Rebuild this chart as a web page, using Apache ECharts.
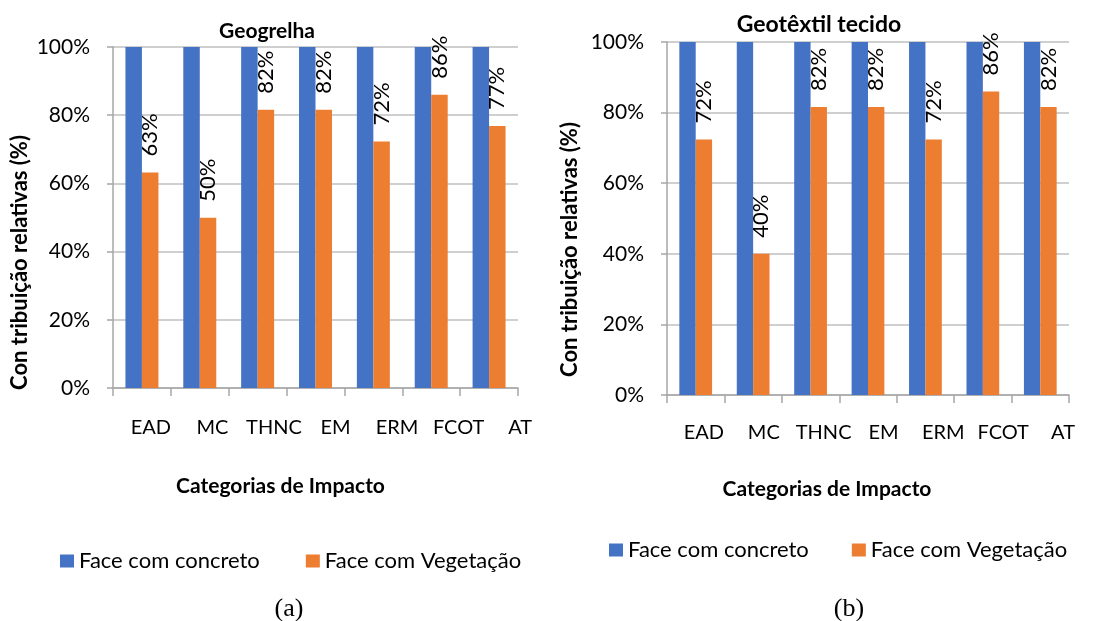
<!DOCTYPE html>
<html>
<head>
<meta charset="utf-8">
<script src="https://cdn.jsdelivr.net/npm/echarts@6/dist/echarts.min.js"></script>
<style>
  html, body { margin: 0; padding: 0; background: #fff; }
  #main { width: 1093px; height: 621px; }
</style>
</head>
<body>
<div id="main"></div>
<script>
// categorias de impacto
var categorias = ['EAD', 'MC', 'THNC', 'EM', 'ERM', 'FCOT', 'AT'];
var yTicks = [0, 20, 40, 60, 80, 100];
// (a) Geogrelha
var geogrelhaConcreto = [100, 100, 100, 100, 100, 100, 100];
var geogrelhaVegetacao = [63.2, 49.9, 81.6, 81.6, 72.3, 86, 76.8];
// (b) Geotêxtil tecido
var geotextilConcreto = [100, 100, 100, 100, 100, 100, 100];
var geotextilVegetacao = [72.4, 40, 81.6, 81.6, 72.4, 86, 81.6];

var azul = '#4472C4';
var laranja = '#ED7D31';
var cinza = '#a6a6a6';
var fonte = 'Lato, "Noto Sans", sans-serif';

// eixo principal (barras), rotulos das categorias vao num eixo a parte
function eixoX(idx, nameGap, namePad) {
    return {
        type: 'category',
        gridIndex: idx,
        data: categorias,
        name: 'Categorias de Impacto',
        nameLocation: 'middle',
        nameGap: nameGap,
        nameTextStyle: { fontFamily: fonte, fontWeight: 'bold', fontSize: 21, color: '#000', padding: [0, namePad, 0, 0] },
        axisLine: { show: true, lineStyle: { color: cinza, width: 1.5 } },
        axisTick: { show: true, length: 8, lineStyle: { color: cinza, width: 1.5 } },
        axisLabel: { show: false },
        splitLine: { show: false }
    };
}

// eixo so com os rotulos (no Excel eles ficaram um pouco deslocados)
function eixoRotulos(idx, margin) {
    return {
        type: 'category',
        gridIndex: idx,
        data: categorias,
        axisLine: { show: false },
        axisTick: { show: false },
        axisLabel: { interval: 0, margin: margin, fontFamily: fonte, fontSize: 20, color: '#000' },
        splitLine: { show: false }
    };
}

function eixoY(idx, nameGap, namePad) {
    return {
        type: 'value',
        gridIndex: idx,
        min: yTicks[0],
        max: yTicks[yTicks.length - 1],
        interval: 20,
        name: 'Con tribuição relativas (%)',
        nameLocation: 'middle',
        nameGap: nameGap,
        nameTextStyle: { fontFamily: fonte, fontWeight: 'bold', fontSize: 22, color: '#000', padding: [0, namePad, 0, 0] },
        axisLine: { show: true, lineStyle: { color: cinza, width: 1.5 } },
        axisTick: { show: true, length: 6, lineStyle: { color: cinza, width: 1.5 } },
        axisLabel: {
            margin: 23, fontFamily: fonte, fontSize: 21, color: '#000',
            formatter: function (v) { return v + '%'; }
        },
        splitLine: { show: true, lineStyle: { color: '#bfbfbf', width: 1.5 } }
    };
}

function eixoYVazio(idx) {
    return { type: 'value', gridIndex: idx, min: 0, max: 100, show: false };
}

var rotulo = {
    show: true,
    position: 'top',
    rotate: 90,
    align: 'left',
    verticalAlign: 'middle',
    distance: 16,
    fontFamily: fonte,
    fontSize: 22,
    color: '#000',
    formatter: function (p) { return Math.round(p.value) + '%'; }
};

function serie(nome, dados, cor, idx, comRotulo) {
    return {
        name: nome,
        type: 'bar',
        xAxisIndex: idx,
        yAxisIndex: idx,
        data: dados,
        barGap: '0%',
        barCategoryGap: '43%',
        itemStyle: { color: cor },
        label: comRotulo ? rotulo : { show: false },
        emphasis: { disabled: true }
    };
}

var legendaTexto = { fontFamily: fonte, fontSize: 22, color: '#000' };
var nomesLegenda = ['Face com concreto', 'Face com Vegetação'];

var chart = echarts.init(document.getElementById('main'));
chart.setOption({
    backgroundColor: '#fff',
    animation: false,
    title: [
        { text: 'Geogrelha', left: 262, top: 16, textAlign: 'center',
          textStyle: { fontFamily: fonte, fontWeight: 'bold', fontSize: 21, color: '#000' } },
        { text: 'Geotêxtil tecido', left: 814, top: 8, textAlign: 'center',
          textStyle: { fontFamily: fonte, fontWeight: 'bold', fontSize: 23, color: '#000' } },
        { text: '(a)', left: 284, top: 591, textAlign: 'center',
          textStyle: { fontFamily: '"Liberation Serif", serif', fontWeight: 'normal', fontSize: 26, color: '#000' } },
        { text: '(b)', left: 844, top: 591, textAlign: 'center',
          textStyle: { fontFamily: '"Liberation Serif", serif', fontWeight: 'normal', fontSize: 26, color: '#000' } }
    ],
    legend: [
        { left: 55, top: 545, itemWidth: 14, itemHeight: 13, itemGap: 46, icon: 'rect',
          data: nomesLegenda, textStyle: legendaTexto, selectedMode: false },
        { left: 604, top: 534, itemWidth: 14, itemHeight: 13, itemGap: 43, icon: 'rect',
          data: nomesLegenda, textStyle: legendaTexto, selectedMode: false }
    ],
    grid: [
        { left: 113, top: 47, width: 405, height: 341 },
        { left: 667, top: 42, width: 402, height: 353 },
        { left: 120, top: 47, width: 431, height: 341 },
        { left: 674, top: 42, width: 423, height: 353 }
    ],
    xAxis: [eixoX(0, 88, 70), eixoX(1, 84, 82), eixoRotulos(2, 30), eixoRotulos(3, 28)],
    yAxis: [eixoY(0, 82, 90), eixoY(1, 86, 62), eixoYVazio(2), eixoYVazio(3)],
    series: [
        serie('Face com concreto', geogrelhaConcreto, azul, 0, false),
        serie('Face com Vegetação', geogrelhaVegetacao, laranja, 0, true),
        serie('Face com concreto', geotextilConcreto, azul, 1, false),
        serie('Face com Vegetação', geotextilVegetacao, laranja, 1, true)
    ]
});
</script>
</body>
</html>
